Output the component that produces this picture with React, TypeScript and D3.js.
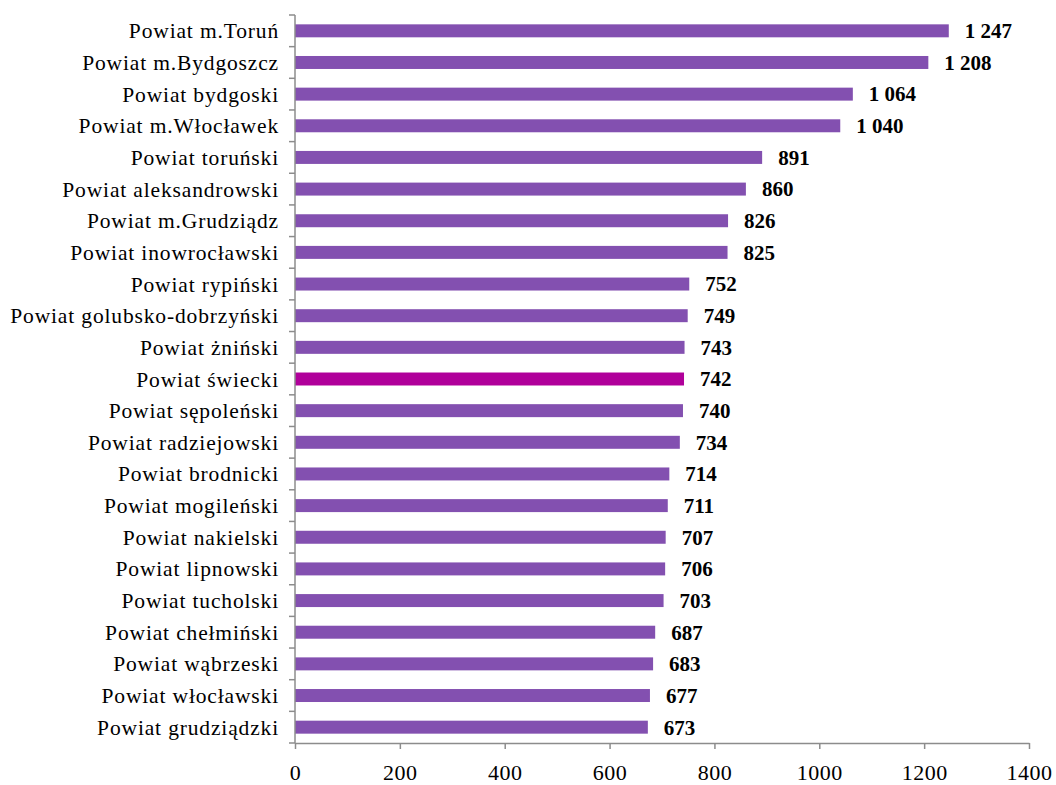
import React, { useRef, useEffect } from 'react';
import * as d3 from 'd3';

const categories = [
  'Powiat m.Toruń', 'Powiat m.Bydgoszcz', 'Powiat bydgoski', 'Powiat m.Włocławek',
  'Powiat toruński', 'Powiat aleksandrowski', 'Powiat m.Grudziądz', 'Powiat inowrocławski',
  'Powiat rypiński', 'Powiat golubsko-dobrzyński', 'Powiat żniński', 'Powiat świecki',
  'Powiat sępoleński', 'Powiat radziejowski', 'Powiat brodnicki', 'Powiat mogileński',
  'Powiat nakielski', 'Powiat lipnowski', 'Powiat tucholski', 'Powiat chełmiński',
  'Powiat wąbrzeski', 'Powiat włocławski', 'Powiat grudziądzki',
];
const values = [1247, 1208, 1064, 1040, 891, 860, 826, 825, 752, 749, 743, 742, 740, 734, 714, 711, 707, 706, 703, 687, 683, 677, 673];
const highlighted = ['Powiat świecki'];
const xTicks = [0, 200, 400, 600, 800, 1000, 1200, 1400];

const fmt = (v: number) => {
  const s = String(v);
  return s.length > 3 ? s.slice(0, s.length - 3) + '\u00a0' + s.slice(-3) : s;
};

const App: React.FC = () => {
  const svgRef = useRef<SVGSVGElement>(null);

  useEffect(() => {
    if (!svgRef.current) return;
    const W = 1056, H = 785;
    const margin = { top: 15, right: 27, bottom: 42, left: 295 };
    const width = W - margin.left - margin.right;
    const height = H - margin.top - margin.bottom;
    const font = "'Liberation Serif', 'Times New Roman', serif";
    const axisColor = '#8c8c8c';

    const root = d3.select(svgRef.current);
    root.selectAll('*').remove();
    root.attr('width', W).attr('height', H);
    const svg = root.append('g').attr('transform', `translate(${margin.left},${margin.top})`);

    const x = d3.scaleLinear().domain([0, 1400]).range([0, width]);
    const y = d3.scaleBand().domain(categories).range([0, height]).paddingInner(0.59).paddingOuter(0.295);
    const step = height / categories.length;

    // bars
    svg.selectAll('.bar')
      .data(categories)
      .enter()
      .append('rect')
      .attr('x', 0)
      .attr('y', d => y(d)!)
      .attr('width', (d, i) => x(values[i]))
      .attr('height', y.bandwidth())
      .attr('fill', d => highlighted.includes(d) ? '#b0009a' : '#8350b0');

    // value labels
    svg.selectAll('.val')
      .data(categories)
      .enter()
      .append('text')
      .attr('x', (d, i) => x(values[i]) + 16)
      .attr('y', d => y(d)! + y.bandwidth() / 2)
      .attr('dy', '0.35em')
      .style('font-family', font)
      .style('font-weight', 'bold')
      .style('font-size', '21px')
      .attr('fill', '#000')
      .text((d, i) => fmt(values[i]));

    // y axis line + ticks at band boundaries
    svg.append('line')
      .attr('x1', 0).attr('x2', 0).attr('y1', 0).attr('y2', height)
      .attr('stroke', axisColor).attr('stroke-width', 1.5);
    svg.selectAll('.ytick')
      .data(d3.range(categories.length + 1))
      .enter()
      .append('line')
      .attr('x1', -6).attr('x2', 0)
      .attr('y1', i => i * step).attr('y2', i => i * step)
      .attr('stroke', axisColor).attr('stroke-width', 1.5);

    svg.selectAll('.cat')
      .data(categories)
      .enter()
      .append('text')
      .attr('x', -16)
      .attr('y', d => y(d)! + y.bandwidth() / 2)
      .attr('dy', '0.35em')
      .attr('text-anchor', 'end')
      .style('font-family', font)
      .style('font-size', '21.5px')
      .style('letter-spacing', '0.85px')
      .attr('fill', '#000')
      .text(d => d);

    // x axis
    const xAxis = svg.append('g')
      .attr('transform', `translate(0,${height})`)
      .call(d3.axisBottom(x).tickValues(xTicks).tickSize(6).tickSizeOuter(0).tickFormat(d => String(d)));
    xAxis.select('.domain').attr('stroke', axisColor).attr('stroke-width', 1.5);
    xAxis.selectAll('.tick line').attr('stroke', axisColor).attr('stroke-width', 1.5);
    xAxis.selectAll('.tick text')
      .style('font-family', font)
      .style('font-size', '22px')
      .style('letter-spacing', '0.5px')
      .attr('fill', '#000')
      .attr('y', 15)
      .attr('dy', '1em');
  }, []);

  return <svg ref={svgRef} style={{ position: 'absolute', left: 0, top: 0 }} />;
};

export default App;
